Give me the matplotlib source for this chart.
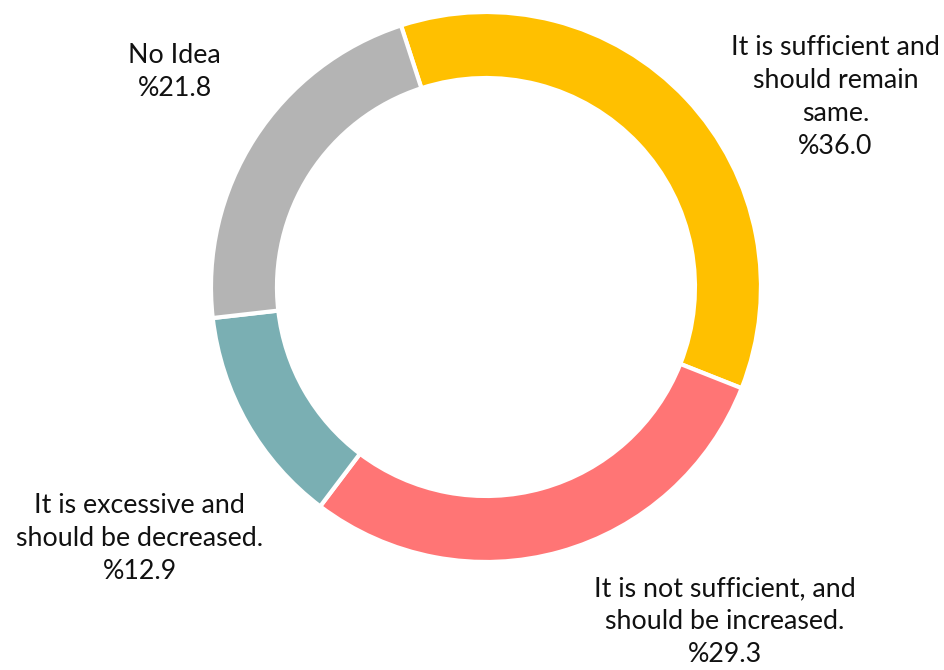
import matplotlib
matplotlib.use("Agg")
import matplotlib.pyplot as plt

labels = [
    "It is sufficient and\nshould remain\nsame.",
    "It is not sufficient, and\nshould be increased.",
    "It is excessive and\nshould be decreased.",
    "No Idea",
]
shares = [36.0, 29.3, 12.9, 21.8]
colors = ["#FFC000", "#FF7575", "#7AAFB3", "#B4B4B4"]

# label anchor points in figure fraction (centre of each text block)
label_pos = [(0.885, 0.855), (0.768, 0.072), (0.148, 0.197), (0.185, 0.893)]

plt.rcParams['font.family'] = ['Lato', 'DejaVu Sans']

fig = plt.figure(figsize=(9.44, 6.70), dpi=100)
ax = fig.add_axes([0.2235, 0.1612, 0.5826, 0.8209])

ax.pie(shares, colors=colors, startangle=108, counterclock=False,
       radius=1.0,
       wedgeprops=dict(width=0.24, edgecolor="white", linewidth=3))
ax.set_xlim(-1.0, 1.0)
ax.set_ylim(-1.0, 1.0)
ax.set_aspect("equal")
ax.axis("off")

for lab, val, (x, y) in zip(labels, shares, label_pos):
    fig.text(x, y, f"{lab}\n%{val:.1f}", ha="center", va="center",
             fontsize=19.3, linespacing=1.4, color="#111111")

fig.savefig("out.png", dpi=100, facecolor="white")
